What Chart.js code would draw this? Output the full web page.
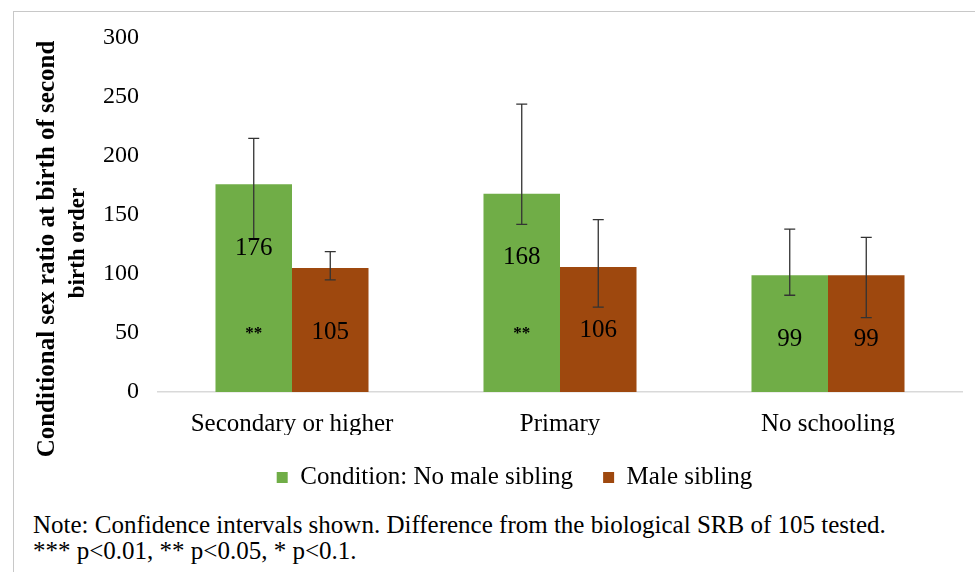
<!DOCTYPE html>
<html>
<head>
<meta charset="utf-8">
<script src="https://cdn.jsdelivr.net/npm/chart.js@4"></script>
<style>
  body { margin: 0; background: #fff; }
  #wrap { position: relative; width: 975px; height: 572px; overflow: hidden; font-family: "Liberation Serif", "Times New Roman", serif; }
  #frameTop { position: absolute; left: 13px; top: 11px; width: 962px; height: 0; border-top: 1px solid #c8c8c8; }
  #frameLeft { position: absolute; left: 13px; top: 11px; width: 0; height: 561px; border-left: 1px solid #c8c8c8; }
  #box { position: absolute; left: 0; top: 0; width: 975px; height: 500px; }
  #note { position: absolute; left: 33px; top: 512px; font-size: 25px; line-height: 26px; color: #000; }
</style>
</head>
<body>
<div id="wrap">
  <div id="frameTop"></div>
  <div id="frameLeft"></div>
  <div id="box"><canvas id="chart"></canvas></div>
  <div id="note">Note: Confidence intervals shown. Difference from the biological SRB of 105 tested.<br>*** p&lt;0.01, ** p&lt;0.05, * p&lt;0.1.</div>
</div>
<script>
// Data
const categories = ["Secondary or higher", "Primary", "No schooling"];
const noMaleSibling = [176, 168, 99];
const maleSibling = [105, 106, 99];
// Confidence intervals (lower, upper)
const noMaleLow = [130, 142, 82];
const noMaleHigh = [215, 244, 138];
const maleLow = [95, 72, 63];
const maleHigh = [119, 146, 131];
// Significance markers
const noMaleSig = ["**", "**", ""];
const maleSig = ["", "", ""];
const yTicks = [0, 50, 100, 150, 200, 250, 300];

const serif = "'Liberation Serif', 'Times New Roman', serif";

// Error bars + value labels
const extrasPlugin = {
  id: "extras",
  afterDatasetsDraw(chart) {
    const ctx = chart.ctx;
    const yScale = chart.scales.y;
    chart.data.datasets.forEach((ds, i) => {
      const meta = chart.getDatasetMeta(i);
      meta.data.forEach((bar, j) => {
        // error bar
        const yLo = yScale.getPixelForValue(ds.ciLow[j]);
        const yHi = yScale.getPixelForValue(ds.ciHigh[j]);
        ctx.save();
        ctx.strokeStyle = "#333";
        ctx.lineWidth = 1.3;
        ctx.beginPath();
        ctx.moveTo(bar.x, yLo); ctx.lineTo(bar.x, yHi);
        ctx.moveTo(bar.x - 5.5, yLo); ctx.lineTo(bar.x + 5.5, yLo);
        ctx.moveTo(bar.x - 5.5, yHi); ctx.lineTo(bar.x + 5.5, yHi);
        ctx.stroke();
        ctx.restore();
        // labels
        ctx.save();
        ctx.fillStyle = "#000";
        ctx.textAlign = "center";
        ctx.textBaseline = "middle";
        ctx.font = "25px " + serif;
        ctx.fillText(String(ds.data[j]), bar.x, bar.y + 64);
        if (ds.sig[j]) {
          ctx.font = "bold 17px " + serif;
          ctx.fillText(ds.sig[j], bar.x, yScale.getPixelForValue(0) - 58);
        }
        ctx.restore();
      });
    });
  },
  afterDraw(chart) {
    // y axis title, two lines
    const ctx = chart.ctx;
    ctx.save();
    ctx.fillStyle = "#000";
    ctx.textAlign = "center";
    ctx.textBaseline = "middle";
    ctx.translate(48, 249);
    ctx.rotate(-Math.PI / 2);
    ctx.font = "bold 25px " + serif;
    ctx.fillText("Conditional sex ratio at birth of second", 0, 0);
    ctx.font = "bold 23px " + serif;
    ctx.fillText("birth order", 6, 30);
    ctx.restore();
  }
};

new Chart(document.getElementById("chart"), {
  type: "bar",
  data: {
    labels: categories,
    datasets: [
      {
        label: "Condition: No male sibling",
        data: noMaleSibling,
        ciLow: noMaleLow,
        ciHigh: noMaleHigh,
        sig: noMaleSig,
        backgroundColor: "#70AD47",
        borderWidth: 0
      },
      {
        label: "Male sibling",
        data: maleSibling,
        ciLow: maleLow,
        ciHigh: maleHigh,
        sig: maleSig,
        backgroundColor: "#9E480E",
        borderWidth: 0
      }
    ]
  },
  options: {
    responsive: true,
    maintainAspectRatio: false,
    animation: false,
    categoryPercentage: 0.571,
    barPercentage: 1,
    layout: { padding: { top: 38, left: 67, right: 13, bottom: 0 } },
    plugins: {
      legend: {
        position: "bottom",
        labels: {
          boxWidth: 11,
          boxHeight: 11,
          padding: 30,
          color: "#000",
          font: { family: serif, size: 25 }
        }
      },
      tooltip: { enabled: false }
    },
    scales: {
      x: {
        grid: { display: false },
        border: { display: true, color: "#d9d9d9", width: 1.5 },
        ticks: { color: "#000", padding: 9, font: { family: serif, size: 25 } },
        afterFit(scale) { scale.height = 43; }
      },
      y: {
        min: 0,
        max: 300,
        afterBuildTicks(scale) { scale.ticks = yTicks.map(v => ({ value: v })); },
        grid: { display: false, drawTicks: false },
        border: { display: false },
        ticks: { color: "#000", padding: 19, font: { family: serif, size: 24 } },
        afterFit(scale) { scale.width = 91; }
      }
    }
  },
  plugins: [extrasPlugin]
});
</script>
</body>
</html>
